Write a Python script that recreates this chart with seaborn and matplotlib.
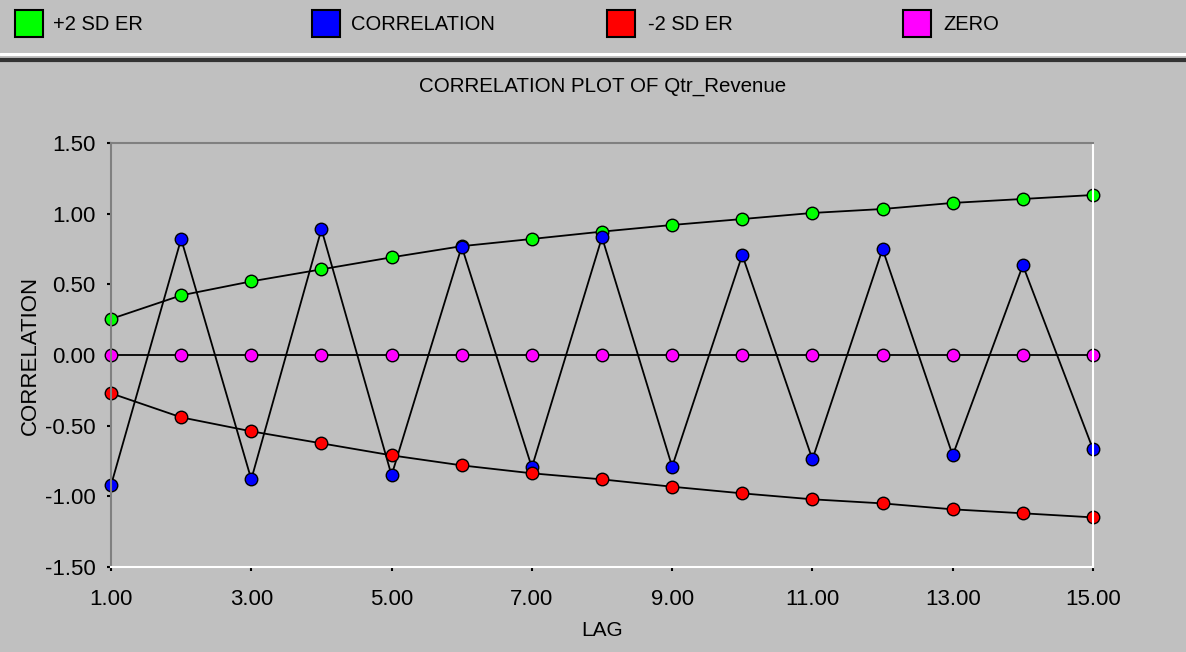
import matplotlib
matplotlib.use('Agg')
import matplotlib.pyplot as plt
import seaborn as sns
from matplotlib.patches import Rectangle
from matplotlib.lines import Line2D

# Datos
lags = list(range(1, 16))
upper = [0.255, 0.422, 0.521, 0.606, 0.691, 0.770, 0.821, 0.873, 0.920, 0.962,
         1.005, 1.033, 1.076, 1.104, 1.132]
corr = [-0.922, 0.821, -0.880, 0.890, -0.851, 0.767, -0.795, 0.833, -0.790, 0.708,
        -0.738, 0.750, -0.710, 0.635, -0.667]
lower = [-0.271, -0.441, -0.540, -0.625, -0.710, -0.781, -0.837, -0.880, -0.932, -0.979,
         -1.021, -1.050, -1.092, -1.120, -1.149]
zero = [0.0] * 15

series = [('+2 SD ER', upper, '#00ff00'),
          ('CORRELATION', corr, '#0000ff'),
          ('-2 SD ER', lower, '#ff0000'),
          ('ZERO', zero, '#ff00ff')]

x_ticks = [1, 3, 5, 7, 9, 11, 13, 15]
y_ticks = [-1.5, -1.0, -0.5, 0.0, 0.5, 1.0, 1.5]

sns.set_theme(style='white')
plt.rcParams['font.family'] = ['Liberation Sans', 'DejaVu Sans']

W, H = 1186, 652
bg = '#c0c0c0'
fig = plt.figure(figsize=(W / 100, H / 100), dpi=100, facecolor=bg)
ax = fig.add_axes([111 / W, 1 - 567 / H, 982 / W, 424 / H])
ax.set_facecolor(bg)

for name, vals, col in series:
    sns.lineplot(x=lags, y=vals, ax=ax, color='black', lw=1.3, marker='o',
                 markersize=9, markerfacecolor=col, markeredgecolor='black',
                 markeredgewidth=1, clip_on=False, legend=False)

ax.set_xlim(1, 15)
ax.set_ylim(-1.5, 1.5)
ax.set_xticks(x_ticks)
ax.set_xticklabels(['%.2f' % v for v in x_ticks])
ax.set_yticks(y_ticks)
ax.set_yticklabels(['%.2f' % abs(v) if v == 0 else '%.2f' % v for v in y_ticks])
ax.tick_params(axis='both', labelsize=16, colors='black', length=3, width=1.5,
               direction='out', bottom=True, left=True)
ax.tick_params(axis='x', pad=13)
ax.tick_params(axis='y', pad=8)

ax.spines['left'].set_color('#808080')
ax.spines['top'].set_color('#808080')
ax.spines['right'].set_color('white')
ax.spines['bottom'].set_color('white')
for s in ax.spines.values():
    s.set_linewidth(1.5)

ax.set_xlabel('LAG', fontsize=15, color='black', labelpad=8)
ax.set_ylabel('CORRELATION', fontsize=16, color='black', labelpad=3)
fig.text(603 / W, 1 - 86 / H, 'CORRELATION PLOT OF Qtr_Revenue', fontsize=14.8,
         ha='center', va='center', color='black')

# Leyenda superior
box_x = [15, 312, 607, 903]
text_x = [53, 351, 648, 943]
for (name, vals, col), bx, tx in zip(series, box_x, text_x):
    fig.add_artist(Rectangle((bx / W, 1 - 37 / H), 28 / W, 27 / H,
                             transform=fig.transFigure, facecolor=col,
                             edgecolor='black', lw=1.5))
    fig.text(tx / W, 1 - 24 / H, name, fontsize=14.5, ha='left', va='center',
             color='black')

# Separador
fig.add_artist(Line2D([0, 1], [1 - 53.5 / H] * 2, transform=fig.transFigure,
                      color='white', lw=2.2))
fig.add_artist(Line2D([0, 1], [1 - 60 / H] * 2, transform=fig.transFigure,
                      color='#333333', lw=3))

fig.savefig('out.png', dpi=100, facecolor=bg)
